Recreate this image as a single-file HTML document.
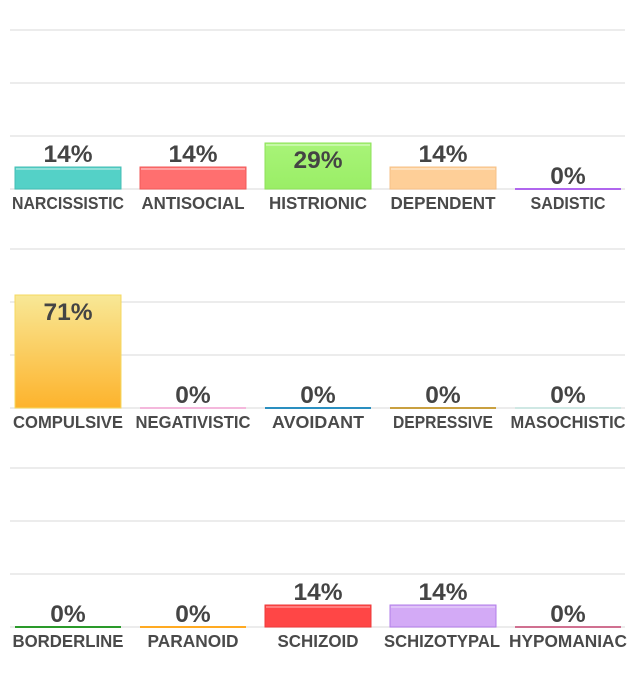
<!DOCTYPE html>
<html><head><meta charset="utf-8"><style>
html,body{margin:0;padding:0;background:#fff;}
svg{display:block;font-family:"Liberation Sans",sans-serif;font-weight:bold;}
.v{font-size:24.5px;fill:#444;text-anchor:middle;}
.c{font-size:17.5px;fill:#4a4a4a;text-anchor:middle;}
.g{stroke:#e6e6e6;stroke-width:1.5;}
</style></head><body>
<svg width="635" height="690" viewBox="0 0 635 690">
<defs>
<linearGradient id="yg" x1="0" y1="0" x2="0" y2="1"><stop offset="0" stop-color="#f8e896"/><stop offset="1" stop-color="#fdb32c"/></linearGradient>
<linearGradient id="gg" x1="0" y1="0" x2="0" y2="1"><stop offset="0" stop-color="#a8f478"/><stop offset="1" stop-color="#9aee66"/></linearGradient>
</defs>
<g class="g">
<line x1="10" x2="625" y1="30" y2="30"/><line x1="10" x2="625" y1="83" y2="83"/><line x1="10" x2="625" y1="136" y2="136"/><line x1="10" x2="625" y1="189" y2="189"/>
<line x1="10" x2="625" y1="249" y2="249"/><line x1="10" x2="625" y1="302" y2="302"/><line x1="10" x2="625" y1="355" y2="355"/><line x1="10" x2="625" y1="408" y2="408"/>
<line x1="10" x2="625" y1="468" y2="468"/><line x1="10" x2="625" y1="521" y2="521"/><line x1="10" x2="625" y1="574" y2="574"/><line x1="10" x2="625" y1="627" y2="627"/>
</g>
<!-- row 1 -->
<rect x="15" y="167" width="106" height="22" fill="#54d1c7" stroke="#45bdb4" stroke-width="1"/><line x1="16" x2="120" y1="169" y2="169" stroke="#fff" stroke-opacity=".7"/>
<rect x="140" y="167" width="106" height="22" fill="#ff6f6f" stroke="#f05a5a" stroke-width="1"/><line x1="141" x2="245" y1="169" y2="169" stroke="#fff" stroke-opacity=".7"/>
<rect x="265" y="143" width="106" height="46" fill="url(#gg)" stroke="#8ee05a" stroke-width="1"/><line x1="266" x2="370" y1="145" y2="145" stroke="#fff" stroke-opacity=".7"/>
<rect x="390" y="167" width="106" height="22" fill="#fecf98" stroke="#f5c088" stroke-width="1"/><line x1="391" x2="495" y1="169" y2="169" stroke="#fff" stroke-opacity=".7"/>
<rect x="515" y="188" width="106" height="2" fill="#b066ee"/>
<text class="v" x="68" y="162">14%</text><text class="v" x="193" y="162">14%</text><text class="v" x="318" y="168">29%</text><text class="v" x="443" y="162">14%</text><text class="v" x="568" y="184">0%</text>
<text class="c" x="68" y="209" textLength="112" lengthAdjust="spacingAndGlyphs">NARCISSISTIC</text>
<text class="c" x="193" y="209" textLength="103" lengthAdjust="spacingAndGlyphs">ANTISOCIAL</text>
<text class="c" x="318" y="209" textLength="98" lengthAdjust="spacingAndGlyphs">HISTRIONIC</text>
<text class="c" x="443" y="209" textLength="105" lengthAdjust="spacingAndGlyphs">DEPENDENT</text>
<text class="c" x="568" y="209" textLength="75" lengthAdjust="spacingAndGlyphs">SADISTIC</text>
<!-- row 2 -->
<rect x="15" y="295" width="106" height="113" fill="url(#yg)" stroke="#f5d860" stroke-width="1"/>
<rect x="140" y="407" width="106" height="2" fill="#f4b8dc"/>
<rect x="265" y="407" width="106" height="2" fill="#2a8fc0"/>
<rect x="390" y="407" width="106" height="2" fill="#c9a040"/>
<rect x="515" y="407" width="106" height="2" fill="#cfe8e4"/>
<text class="v" x="68" y="320">71%</text><text class="v" x="193" y="403">0%</text><text class="v" x="318" y="403">0%</text><text class="v" x="443" y="403">0%</text><text class="v" x="568" y="403">0%</text>
<text class="c" x="68" y="428" textLength="110" lengthAdjust="spacingAndGlyphs">COMPULSIVE</text>
<text class="c" x="193" y="428" textLength="115" lengthAdjust="spacingAndGlyphs">NEGATIVISTIC</text>
<text class="c" x="318" y="428" textLength="92" lengthAdjust="spacingAndGlyphs">AVOIDANT</text>
<text class="c" x="443" y="428" textLength="100" lengthAdjust="spacingAndGlyphs">DEPRESSIVE</text>
<text class="c" x="568" y="428" textLength="115" lengthAdjust="spacingAndGlyphs">MASOCHISTIC</text>
<!-- row 3 -->
<rect x="15" y="626" width="106" height="2" fill="#2a9a2a"/>
<rect x="140" y="626" width="106" height="2" fill="#ffaa22"/>
<rect x="265" y="605" width="106" height="22" fill="#ff4646" stroke="#ee3a3a" stroke-width="1"/><line x1="266" x2="370" y1="607" y2="607" stroke="#fff" stroke-opacity=".6"/>
<rect x="390" y="605" width="106" height="22" fill="#d3aaf6" stroke="#b27ee8" stroke-width="1"/><line x1="391" x2="495" y1="607" y2="607" stroke="#fff" stroke-opacity=".6"/>
<rect x="515" y="626" width="106" height="2" fill="#d07090"/>
<text class="v" x="68" y="622">0%</text><text class="v" x="193" y="622">0%</text><text class="v" x="318" y="600">14%</text><text class="v" x="443" y="600">14%</text><text class="v" x="568" y="622">0%</text>
<text class="c" x="68" y="647" textLength="111" lengthAdjust="spacingAndGlyphs">BORDERLINE</text>
<text class="c" x="193" y="647" textLength="91" lengthAdjust="spacingAndGlyphs">PARANOID</text>
<text class="c" x="318" y="647" textLength="81" lengthAdjust="spacingAndGlyphs">SCHIZOID</text>
<text class="c" x="442" y="647" textLength="116" lengthAdjust="spacingAndGlyphs">SCHIZOTYPAL</text>
<text class="c" x="568" y="647" textLength="118" lengthAdjust="spacingAndGlyphs">HYPOMANIAC</text>
</svg>
</body></html>
